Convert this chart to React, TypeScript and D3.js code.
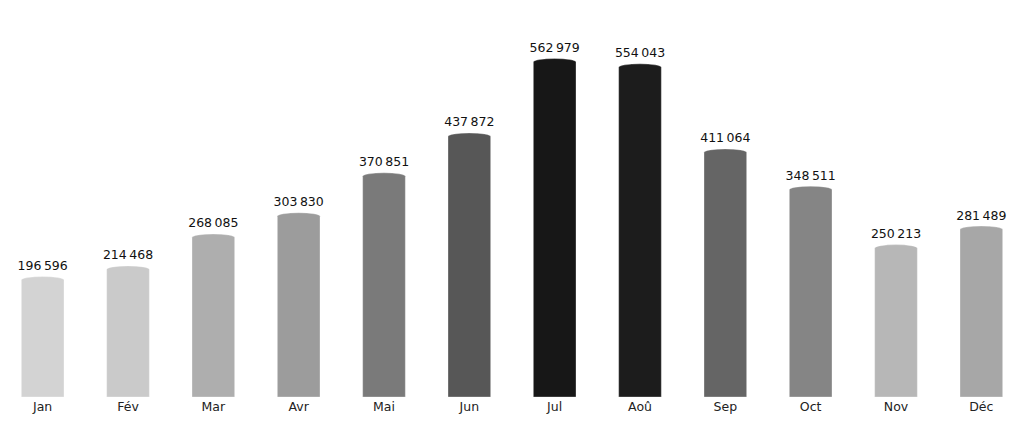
import React from "react";
import * as d3 from "d3";

const months = ["Jan", "Fév", "Mar", "Avr", "Mai", "Jun", "Jul", "Aoû", "Sep", "Oct", "Nov", "Déc"];
const values = [196596, 214468, 268085, 303830, 370851, 437872, 562979, 554043, 411064, 348511, 250213, 281489];

const W = 1024;
const H = 422;

const fmt = (v: number) => d3.format(",")(v).replace(/,/g, "\u202f");

export default function App() {
  const x = d3.scaleBand<string>().domain(months).range([0, W]).paddingInner(0.5).paddingOuter(0.25);
  const y = d3.scaleLinear().domain([0, 600000]).range([397, 40]);
  const color = d3
    .scaleLinear<string>()
    .domain([d3.min(values)!, d3.max(values)!])
    .range(["#d3d3d3", "#171717"]);
  const bw = x.bandwidth();
  const ry = 3.5;
  return (
    <svg width={W} height={H} style={{ position: "absolute", left: 0, top: 0, fontFamily: "DejaVu Sans" }}>
      {months.map((m, i) => {
        const x0 = x(m)!;
        const top = y(values[i]);
        const bot = y(0);
        const d = `M${x0},${bot} L${x0},${top} A${bw / 2},${ry} 0 0 1 ${x0 + bw},${top} L${x0 + bw},${bot} Z`;
        return (
          <g key={m}>
            <path d={d} fill={color(values[i])} stroke="#fff" strokeOpacity={0.4} strokeWidth={0.8} />
            <text x={x0 + bw / 2} y={top - ry - 6.5} textAnchor="middle" fontSize={12.5} fill="#111">
              {fmt(values[i])}
            </text>
            <text x={x0 + bw / 2} y={bot + 14} textAnchor="middle" fontSize={12.5} fill="#222">
              {m}
            </text>
          </g>
        );
      })}
    </svg>
  );
}
